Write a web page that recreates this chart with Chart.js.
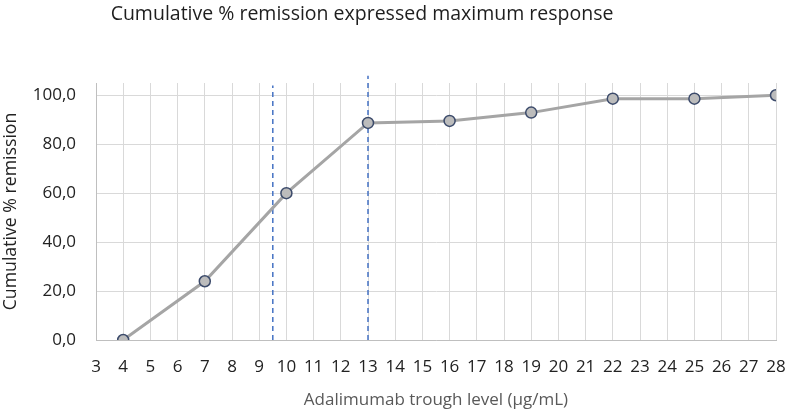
<!DOCTYPE html>
<html>
<head>
<meta charset="utf-8">
<script src="https://cdn.jsdelivr.net/npm/chart.js@4/dist/chart.umd.min.js"></script>
<style>
  html, body { margin: 0; padding: 0; background: #fff; }
  #wrap { width: 786px; height: 412px; position: relative; }
</style>
</head>
<body>
<div id="wrap"><canvas id="remissionChart"></canvas></div>
<script>
// values
const troughLevels = [4, 7, 10, 13, 16, 19, 22, 25, 28];
const remission = [0, 24, 60, 88.7, 89.5, 92.9, 98.6, 98.6, 100];
const cutoffs = [9.5, 13];
const cutoffTops = [104, 108];
const yTicks = [0, 20, 40, 60, 80, 100];
const chartTitle = "Cumulative % remission expressed maximum response";

const FONT = "'Open Sans', 'Liberation Sans', sans-serif";

// title sits a bit left of centre in the original, so draw it ourselves
const titlePlugin = {
  id: "offsetTitle",
  afterDraw(chart){
    const c = chart.ctx;
    c.save();
    c.font = "19.5px " + FONT;
    c.fillStyle = "#1e1e1e";
    c.textAlign = "center";
    c.textBaseline = "middle";
    c.fillText(chartTitle, 362, 14);
    c.restore();
  }
};

function renderChart(){
  const ctx = document.getElementById("remissionChart");
  if (!ctx || typeof Chart === "undefined") return;

  const points = troughLevels.map((x, i) => ({ x: x, y: remission[i] }));

  const cutoffSets = cutoffs.map((c, i) => ({
    data: [{ x: c, y: 0 }, { x: c, y: cutoffTops[i] }],
    borderColor: "#4472c4",
    borderWidth: 1.5,
    borderDash: [5, 4],
    pointRadius: 0,
    clip: false,
    order: 2
  }));

  new Chart(ctx, {
    type: "line",
    data: {
      datasets: [{
        label: "Cumulative % remission",
        data: points,
        borderColor: "#a5a5a5",
        borderWidth: 3,
        pointRadius: 5.5,
        pointBackgroundColor: "#bcbcbc",
        pointBorderColor: "#3c4b6b",
        pointBorderWidth: 1.5,
        order: 1
      }, ...cutoffSets]
    },
    plugins: [titlePlugin],
    options: {
      responsive: true,
      maintainAspectRatio: false,
      animation: false,
      layout: { padding: { left: 0, right: 10, top: 83, bottom: 0 } },
      plugins: {
        legend: { display: false },
        tooltip: { enabled: false },
        title: { display: false }
      },
      scales: {
        x: {
          type: "linear",
          min: 3,
          max: 28,
          afterFit: s => { s.height = 72; s.paddingLeft = 0; s.paddingRight = 0; },
          ticks: { stepSize: 1, color: "#222", font: { family: FONT, size: 17 }, padding: 17, maxRotation: 0, autoSkip: false },
          grid: { color: "#d9d9d9", lineWidth: 1, drawTicks: false },
          border: { color: "#bfbfbf" },
          title: { display: true, text: "Adalimumab trough level (µg/mL)", color: "#595959", font: { family: FONT, size: 17 }, padding: { top: 0, bottom: 2 } }
        },
        y: {
          min: 0,
          max: 105,
          afterFit: s => { s.width = 96; s.paddingTop = 0; s.paddingBottom = 0; },
          afterBuildTicks: axis => { axis.ticks = yTicks.map(v => ({ value: v })); },
          ticks: { color: "#222", font: { family: FONT, size: 17 }, padding: 20,
                   callback: v => v.toFixed(1).replace(".", ",") },
          grid: { color: "#d9d9d9", lineWidth: 1, drawTicks: false },
          border: { color: "#bfbfbf" },
          title: { display: true, text: "Cumulative % remission", color: "#222", font: { family: FONT, size: 17.7 }, padding: { top: 0, bottom: 0 } }
        }
      }
    }
  });
}

document.addEventListener("DOMContentLoaded", renderChart);
</script>
</body>
</html>
